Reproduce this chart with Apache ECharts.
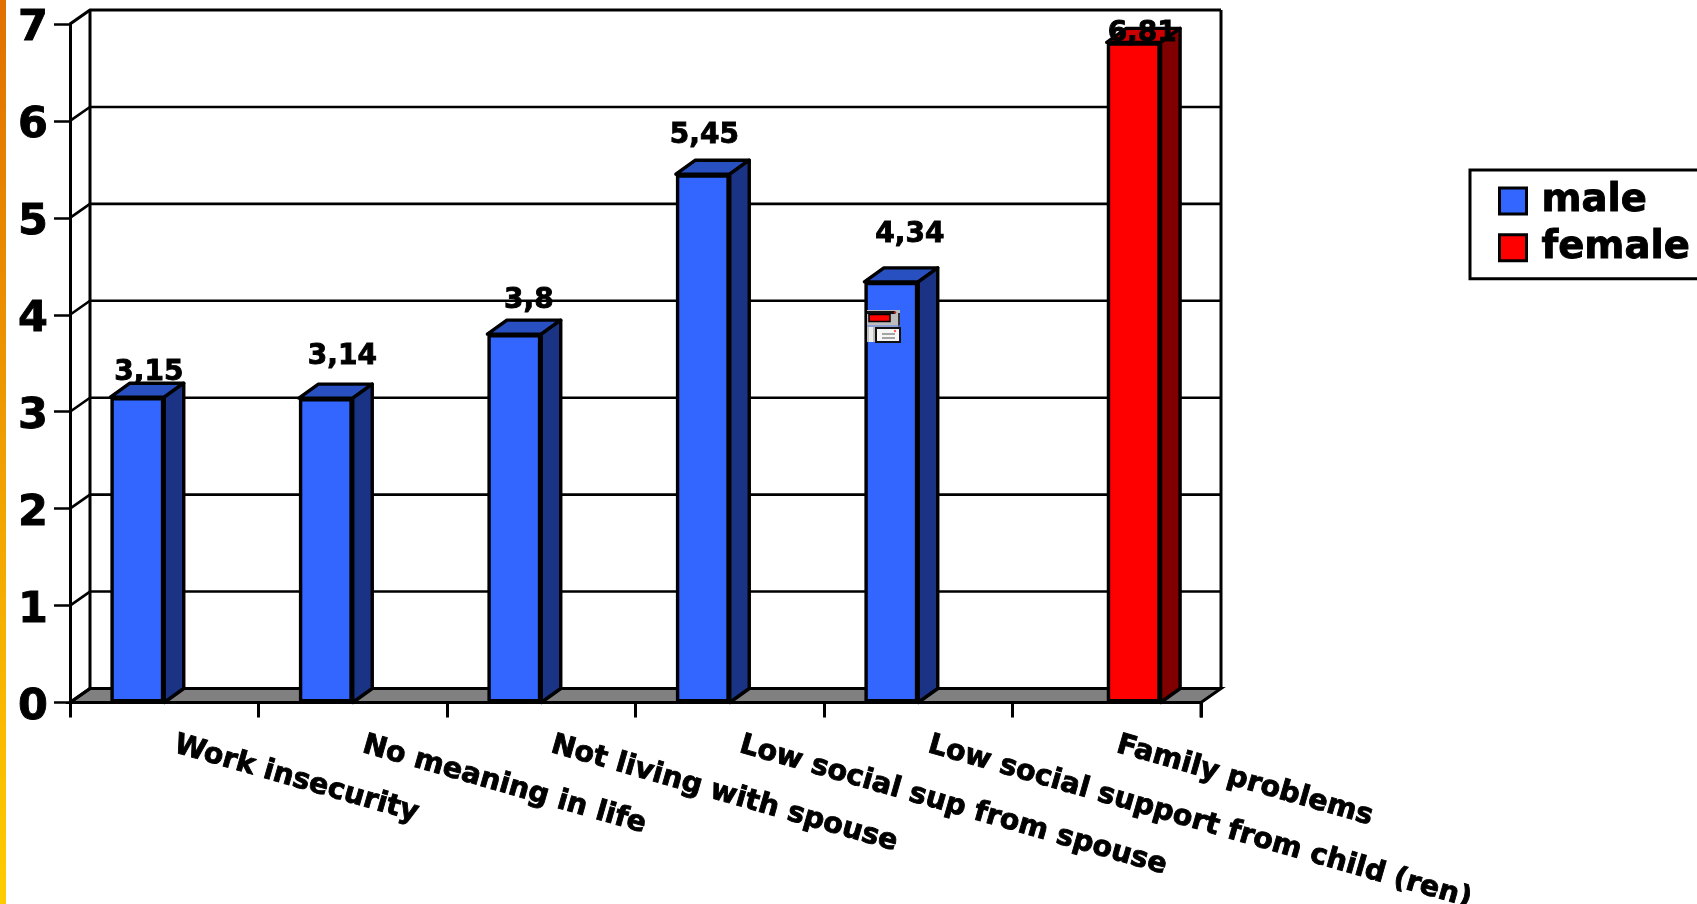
<!DOCTYPE html>
<html>
<head>
<meta charset="utf-8">
<style>html,body{margin:0;padding:0;background:#fff}#chart{width:1697px;height:904px}</style>
<script src="https://cdn.jsdelivr.net/npm/echarts@6/dist/echarts.min.js"></script>
</head>
<body>
<div id="chart"></div>
<script>
// Risk factor scores by sex
const categories = ['Work insecurity', 'No meaning in life', 'Not living with spouse',
  'Low social sup from spouse', 'Low social support from child (ren)', 'Family problems'];
const maleValues = [3.15, 3.14, 3.8, 5.45, 4.34, null];
const femaleValues = [null, null, null, null, null, 6.81];
const yTicks = [0, 1, 2, 3, 4, 5, 6, 7];

// Hand-placed value labels: x/y shift from each bar's default label anchor
const maleLabelShift = [[11.5, -10], [16.5, -27], [14.5, -19], [1.5, -25], [18.5, -33], [0, 0]];
const femaleLabelShift = [[0, 0], [0, 0], [0, 0], [0, 0], [0, 0], [8.5, 5]];

const FONT = '"DejaVu Sans"';
const DEPTH_X = 20, DEPTH_Y = 14;       // walls, floor
const BAR_DEPTH_X = 19.5, BAR_DEPTH_Y = 14;
const BAR_SHARE = 1 / 3.5;              // bar width as a share of the category band

const frontFaces = {male: '#3366ff', female: '#ff0000'};
const topFaces = {male: '#2850c0', female: '#cc0000'};
const sideFaces = {male: '#1a3384', female: '#800000'};
const BLACK = '#000';
const HEAVY = {textBorderColor: BLACK, textBorderWidth: 0.9};  // thickens the bold face a little

function barData(values, shifts) {
  return values.map((v, i) => v == null ? null : {
    value: v,
    label: {offset: shifts[i]}
  });
}

// Value-axis gridlines, carried over the left wall and along the back wall
function renderGridline(params, api) {
  const v = api.value(0);
  const cs = params.coordSys;
  const y = api.coord([0, v])[1];
  return {
    type: 'polyline',
    shape: {points: [[cs.x, y], [cs.x + DEPTH_X, y - DEPTH_Y], [cs.x + cs.width + DEPTH_X, y - DEPTH_Y]]},
    style: {fill: 'none', stroke: BLACK, lineWidth: v === 0 || v === 7 ? 3.2 : 2.6}
  };
}

// Floor plate and the two back uprights
function renderFrame(params, api) {
  const cs = params.coordSys;
  const y0 = api.coord([0, 0])[1];
  const yTop = api.coord([0, 7])[1];
  const xL = cs.x, xR = cs.x + cs.width;
  return {
    type: 'group',
    children: [
      {type: 'polygon',
        shape: {points: [[xL, y0], [xL + DEPTH_X, y0 - DEPTH_Y], [xR + DEPTH_X, y0 - DEPTH_Y], [xR, y0]]},
        style: {fill: '#808080', stroke: BLACK, lineWidth: 3}},
      {type: 'line', shape: {x1: xL + DEPTH_X, y1: y0 - DEPTH_Y, x2: xL + DEPTH_X, y2: yTop - DEPTH_Y},
        style: {stroke: BLACK, lineWidth: 3}},
      {type: 'line', shape: {x1: xR + DEPTH_X, y1: y0 - DEPTH_Y, x2: xR + DEPTH_X, y2: yTop - DEPTH_Y},
        style: {stroke: BLACK, lineWidth: 3}},
      {type: 'line', shape: {x1: xR, y1: y0, x2: xR, y2: y0 + 15},
        style: {stroke: BLACK, lineWidth: 3}}
    ]
  };
}

// Top and side faces behind a front-facing bar
function depthRenderer(sex) {
  return function (params, api) {
    const cat = api.value(0);
    const val = api.value(1);
    const p = api.coord([cat, val]);
    const base = api.coord([cat, 0]);
    const w = api.size([1, 0])[0] * BAR_SHARE;
    const x0 = sex === 'male' ? p[0] - w : p[0];
    const x1 = x0 + w;
    const dx = BAR_DEPTH_X, dy = BAR_DEPTH_Y;
    return {
      type: 'group',
      children: [
        {type: 'polygon',
          shape: {points: [[x0, p[1]], [x0 + dx, p[1] - dy], [x1 + dx, p[1] - dy], [x1, p[1]]]},
          style: {fill: topFaces[sex], stroke: BLACK, lineWidth: 3.4, lineJoin: 'round'}},
        {type: 'polygon',
          shape: {points: [[x1, p[1]], [x1 + dx, p[1] - dy], [x1 + dx, base[1] - dy], [x1, base[1]]]},
          style: {fill: sideFaces[sex], stroke: BLACK, lineWidth: 3.4, lineJoin: 'round'}}
      ]
    };
  };
}

function depthData(values) {
  return values.map((v, i) => v == null ? null : [i, v]).filter(Boolean);
}

const valueLabel = Object.assign({
  show: true,
  position: 'top',
  distance: 0,
  color: BLACK,
  fontFamily: FONT,
  fontWeight: 'bold',
  fontSize: 28,
  formatter: p => String(p.value).replace('.', ',')
}, HEAVY);

// Small embedded-object glyph resting on the fifth bar
const objectGlyph = {
  type: 'group', x: 867, y: 310, silent: true,
  children: [
    {type: 'rect', z: 20, shape: {x: 0, y: 0, width: 33, height: 32}, style: {fill: '#bdbdbd'}},
    {type: 'rect', z: 20, shape: {x: 2, y: 17, width: 4, height: 15}, style: {fill: '#ececec'}},
    {type: 'rect', z: 20, shape: {x: 0, y: 1, width: 28, height: 3}, style: {fill: '#111'}},
    {type: 'rect', z: 20, shape: {x: 2, y: 4.5, width: 21, height: 7}, style: {fill: '#ff0000', stroke: '#000', lineWidth: 1.5}},
    {type: 'rect', z: 20, shape: {x: 31, y: 3, width: 2, height: 14}, style: {fill: '#333'}},
    {type: 'circle', z: 20, shape: {cx: 28, cy: 2.5, r: 1.2}, style: {fill: '#b02020'}},
    {type: 'line', z: 20, shape: {x1: 0, y1: 16, x2: 33, y2: 16}, style: {stroke: '#5c7eea', lineWidth: 1}},
    {type: 'rect', z: 20, shape: {x: 9, y: 18, width: 24, height: 14}, style: {fill: '#f6f6f6', stroke: '#111', lineWidth: 2}},
    {type: 'line', z: 20, shape: {x1: 15, y1: 24, x2: 28, y2: 24}, style: {stroke: '#888', lineWidth: 1.5}},
    {type: 'line', z: 20, shape: {x1: 15, y1: 28, x2: 28, y2: 28}, style: {stroke: '#888', lineWidth: 1.5}},
    {type: 'circle', z: 20, shape: {cx: 28, cy: 21, r: 1.2}, style: {fill: '#ff6060'}}
  ]
};

const chart = echarts.init(document.getElementById('chart'), null, {renderer: 'canvas'});
chart.setOption({
  animation: false,
  backgroundColor: '#fff',
  grid: {left: 70, top: 24, width: 1131, height: 678.5, containLabel: false, outerBoundsMode: 'none'},
  legend: {
    left: 1470,
    top: 170,
    orient: 'vertical',
    padding: [11, 30, 11, 28],
    backgroundColor: '#fff',
    borderColor: BLACK,
    borderWidth: 3,
    borderRadius: 0,
    itemWidth: 27,
    itemHeight: 26,
    itemGap: 7,
    selectedMode: false,
    textStyle: Object.assign({fontFamily: FONT, fontWeight: 'bold', fontSize: 38.5, color: BLACK, padding: [0, 0, 0, 10]}, HEAVY),
    data: [
      {name: 'male', icon: 'rect', itemStyle: {color: frontFaces.male, borderColor: BLACK, borderWidth: 3}},
      {name: 'female', icon: 'rect', itemStyle: {color: frontFaces.female, borderColor: BLACK, borderWidth: 3}}
    ]
  },
  xAxis: {
    type: 'category',
    data: categories,
    boundaryGap: true,
    axisLine: {show: true, onZero: false, lineStyle: {color: BLACK, width: 3}},
    axisTick: {show: true, alignWithLabel: false, length: 15, lineStyle: {color: BLACK, width: 3}},
    axisLabel: Object.assign({
      interval: 0,
      hideOverlap: false,
      rotate: -16,
      margin: 39,
      padding: [0, 0, 0, 11],
      align: 'left',
      verticalAlign: 'middle',
      color: BLACK,
      fontFamily: FONT,
      fontWeight: 'bold',
      fontSize: 28.5
    }, HEAVY)
  },
  yAxis: {
    type: 'value',
    min: 0,
    max: 7,
    interval: 1,
    splitLine: {show: false},
    axisLine: {show: true, lineStyle: {color: BLACK, width: 3}},
    axisTick: {show: true, length: 16, lineStyle: {color: BLACK, width: 2.5}},
    axisLabel: Object.assign({
      margin: 22,
      verticalAlign: 'top',
      lineHeight: 10,
      color: BLACK,
      fontFamily: FONT,
      fontWeight: 'bold',
      fontSize: 43,
      formatter: v => String(yTicks[v])
    }, HEAVY)
  },
  series: [
    {type: 'custom', name: 'frame', silent: true, z: 1, coordinateSystem: 'cartesian2d',
      renderItem: renderFrame, data: [[0]], encode: {x: -1, y: -1}},
    {type: 'custom', name: 'gridlines', silent: true, z: 2, coordinateSystem: 'cartesian2d',
      renderItem: renderGridline, data: yTicks.map(v => [v]), encode: {x: -1, y: 0}},
    {type: 'custom', name: 'male depth', silent: true, z: 3, coordinateSystem: 'cartesian2d',
      renderItem: depthRenderer('male'), data: depthData(maleValues), encode: {x: 0, y: 1}},
    {type: 'custom', name: 'female depth', silent: true, z: 3, coordinateSystem: 'cartesian2d',
      renderItem: depthRenderer('female'), data: depthData(femaleValues), encode: {x: 0, y: 1}},
    {type: 'bar', name: 'male', z: 4, barWidth: (BAR_SHARE * 100) + '%', barGap: 0,
      itemStyle: {color: frontFaces.male, borderColor: BLACK, borderWidth: 3.4},
      label: valueLabel, data: barData(maleValues, maleLabelShift)},
    {type: 'bar', name: 'female', z: 4, barWidth: (BAR_SHARE * 100) + '%', barGap: 0,
      itemStyle: {color: frontFaces.female, borderColor: BLACK, borderWidth: 3.4},
      label: valueLabel, data: barData(femaleValues, femaleLabelShift)}
  ],
  graphic: [
    // Sidebar stripe down the left page edge
    {type: 'rect', x: 0, y: 0, z: 10, silent: true,
      shape: {width: 6, height: 904},
      style: {fill: new echarts.graphic.LinearGradient(0, 0, 0, 1, [
        {offset: 0, color: '#e07000'}, {offset: 1, color: '#ffcc00'}])}},
    objectGlyph
  ]
});
</script>
</body>
</html>
